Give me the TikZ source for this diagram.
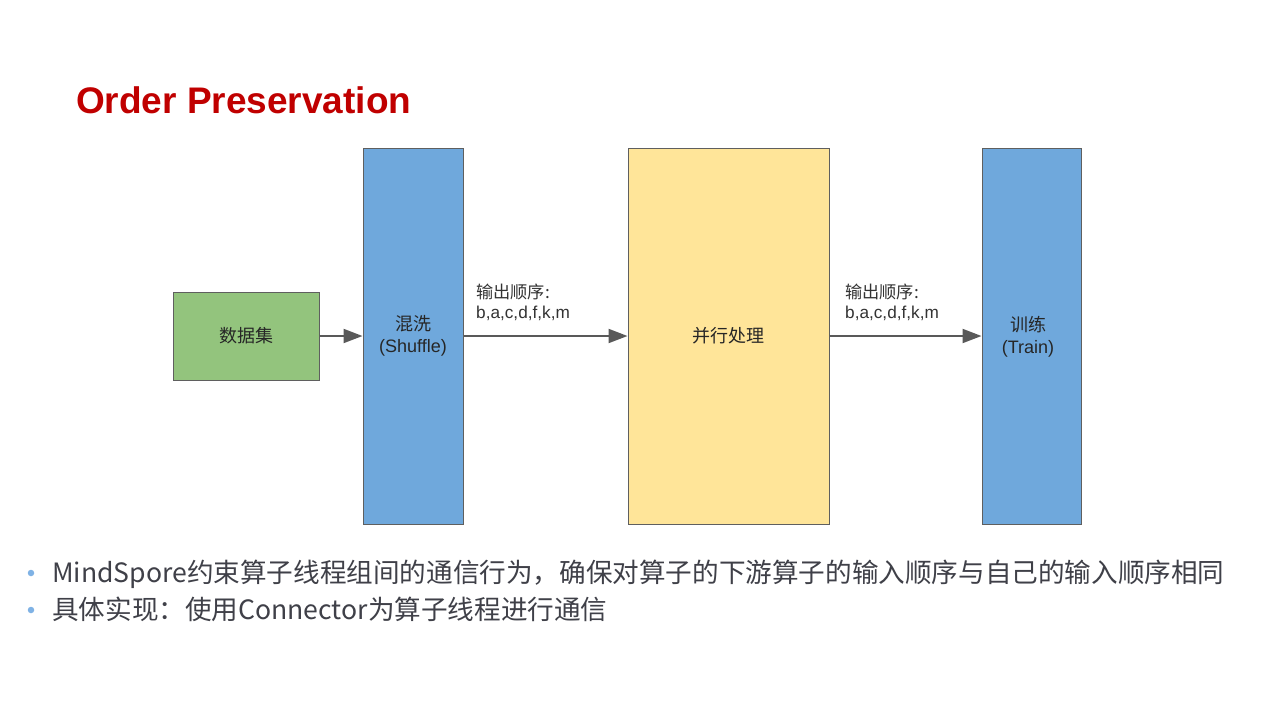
\documentclass[tikz,border=0pt]{standalone}
\usepackage{fontspec}
\setmainfont{Liberation Sans}
\newfontfamily\cjk{Noto Sans CJK SC}
\usetikzlibrary{arrows.meta}
\definecolor{boxgreen}{HTML}{93C47D}
\definecolor{boxblue}{HTML}{6FA8DC}
\definecolor{boxyellow}{HTML}{FFE599}
\definecolor{edgegrey}{HTML}{5F5F5F}
\definecolor{arrowgrey}{HTML}{595959}
\definecolor{titlered}{HTML}{C00000}
\definecolor{bodytext}{HTML}{3F4048}
\definecolor{bulletblue}{HTML}{7FB2E5}
\tikzset{
  box/.style={draw=edgegrey, line width=1pt, inner sep=0pt, align=center,
    font=\fontsize{18}{23}\selectfont, text=black!85},
  arr/.style={draw=arrowgrey, line width=2pt,
    -{Triangle[length=19pt,width=14pt]}},
  lab/.style={anchor=base west, inner sep=0pt, font=\fontsize{17.2}{20}\selectfont, text=black!80},
  bullettext/.style={anchor=base west, inner sep=0pt, font=\cjk\fontsize{26.6}{30}\selectfont, text=bodytext},
  dot/.style={circle, fill=bulletblue, inner sep=0pt, minimum size=6.5pt}
}
\begin{document}
\begin{tikzpicture}[x=1pt,y=-1pt]
\path[use as bounding box, fill=white] (0,0) rectangle (1280,720);

\node[anchor=base west, inner sep=0pt, text=titlered, font=\bfseries\fontsize{37}{40}\selectfont] (title) at (76,113) {Order Preservation};

\node[box, fill=boxgreen, minimum width=146pt, minimum height=88pt] (data) at (246,336) {\cjk 数据集};
\node[box, fill=boxblue, minimum width=100pt, minimum height=376pt] (shuf) at (413,336) {\cjk 混洗\\[-1pt](Shuffle)};
\node[box, fill=boxyellow, minimum width=201pt, minimum height=376pt] (par) at (728.5,336) {\cjk 并行处理};
\node[box, fill=boxblue, minimum width=99pt, minimum height=376pt] (train) at (1031.5,336) {};
\node[inner sep=0pt, align=center, font=\fontsize{18}{23}\selectfont, text=black!85] (traintext) at (1028,337) {\cjk 训练\\[-1pt](Train)};

\draw[arr] (data.east) -- (shuf.west);
\draw[arr] (shuf.east) -- (par.west);
\draw[arr] (par.east) -- (train.west);

\node[lab] (l1a) at (476,298) {\cjk 输出顺序:};
\node[lab] (l1b) at (476,318) {b,a,c,d,f,k,m};
\node[lab] (l2a) at (845,298) {\cjk 输出顺序:};
\node[lab] (l2b) at (845,318) {b,a,c,d,f,k,m};

\node[dot] (d1) at (31,573) {};
\node[bullettext] (b1) at (52,582) {MindSpore约束算子线程组间的通信行为，确保对算子的下游算子的输入顺序与自己的输入顺序相同};
\node[dot] (d2) at (31,610) {};
\node[bullettext] (b2) at (52,619) {具体实现：使用Connector为算子线程进行通信};
\end{tikzpicture}
\end{document}
